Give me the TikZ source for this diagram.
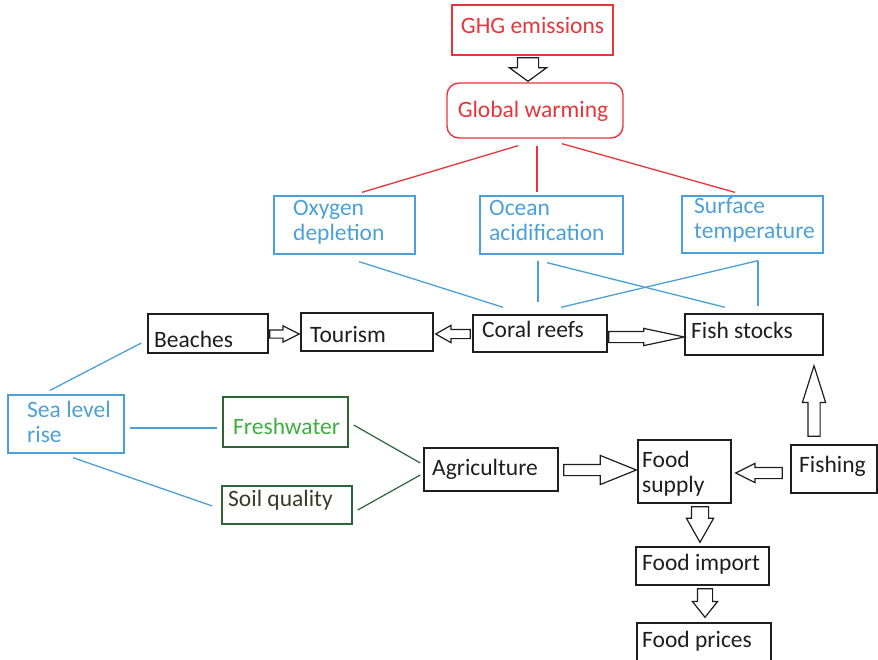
\documentclass[tikz,border=0pt]{standalone}
\usepackage{fontspec}
\setmainfont{Carlito}
\usetikzlibrary{calc,shapes.arrows}

\definecolor{warmred}{RGB}{232,52,58}
\definecolor{seablue}{RGB}{75,160,215}
\definecolor{leafgreen}{RGB}{60,175,60}
\definecolor{darkgreen}{RGB}{45,100,55}
\definecolor{soiltext}{RGB}{55,60,40}
\definecolor{ink}{RGB}{30,30,30}

\tikzset{
  every node/.style={font=\fontsize{23.5}{25}\selectfont},
  frame/.style={draw, rectangle, inner sep=0pt, line width=1.4pt},
  redframe/.style={frame, draw=warmred},
  blueframe/.style={frame, draw=seablue, line width=1.3pt},
  greenframe/.style={frame, draw=darkgreen},
  blackframe/.style={frame, draw=ink},
  txt/.style={anchor=base west, inner sep=0pt, align=left},
  redlink/.style={draw=warmred, line width=1.3pt},
  bluelink/.style={draw=seablue, line width=1.3pt},
  greenlink/.style={draw=darkgreen, line width=1.2pt},
  hollow/.style={single arrow, draw=ink, fill=white, line width=1.2pt,
    inner xsep=0pt, outer sep=0pt, sloped, allow upside down,
    single arrow head indent=0pt},
}

% box given by its corners (x1,y1) (x2,y2), y measured downwards
\newcommand\boxat[6]{%
  \node[#1, minimum width={#5-#3}, minimum height={#6-#4}] (#2)
    at ({(#3+#5)/2},{(#4+#6)/2}) {};}

% outlined block arrow: start, end, half shaft width, head extend, tip angle
\newcommand\hollowarrow[5]{%
  \path let \p1=#1, \p2=#2, \n1={veclen(\x2-\x1,\y2-\y1)} in #1 -- #2
    node[hollow, pos=0, anchor=tail, minimum height=\n1, inner ysep=#3pt,
         single arrow head extend=#4pt, single arrow tip angle=#5] {};}

\begin{document}
\begin{tikzpicture}[x=1pt, y=-1pt]
\useasboundingbox (0,0) rectangle (878,659);

% ---- boxes ----
\boxat{redframe}{ghg}{452}{5}{613}{55}
\boxat{redframe, rounded corners=12pt}{gw}{447}{83}{623}{138}
\boxat{blueframe}{oxy}{274}{196}{415}{254}
\boxat{blueframe}{ocean}{480}{196}{623}{254}
\boxat{blueframe}{surf}{682}{196}{823}{253}
\boxat{blackframe}{beach}{148}{314}{268}{353}
\boxat{blackframe}{tour}{301}{313}{433}{351}
\boxat{blackframe}{coral}{473}{315}{607}{352}
\boxat{blackframe}{fish}{685}{314}{823}{355}
\boxat{blueframe}{sea}{8}{395}{124}{453}
\boxat{greenframe}{fresh}{223}{397}{348}{447}
\boxat{greenframe}{soil}{222}{486}{352}{524}
\boxat{blackframe}{agri}{424}{448}{558}{491}
\boxat{blackframe}{fsup}{638}{440}{731}{503}
\boxat{blackframe}{fishing}{791}{445}{877}{493}
\boxat{blackframe}{fimp}{636}{547}{769}{585}
\boxat{blackframe}{fpr}{637}{623}{771}{664}

% ---- texts ----
\node[anchor=base, inner sep=0pt, text=warmred] (t-ghg) at (532.5,33) {GHG emissions};
\node[anchor=base, inner sep=0pt, text=warmred] (t-gw) at (533,117) {Global warming};
\node[txt, text=seablue] (t-oxy) at (293,240) {Oxygen\\depletion};
\node[txt, text=seablue] (t-ocean) at (489,240) {Ocean\\acidification};
\node[txt, text=seablue] (t-surf) at (694,238) {Surface\\temperature};
\node[txt, text=ink] (t-beach) at (154,347) {Beaches};
\node[txt, text=ink] (t-tour) at (310,342) {Tourism};
\node[txt, text=ink] (t-coral) at (482,337) {Coral reefs};
\node[txt, text=ink] (t-fish) at (691,338) {Fish stocks};
\node[txt, text=seablue] (t-sea) at (27,442) {Sea level\\rise};
\node[txt, text=leafgreen] (t-fresh) at (233,434) {Freshwater};
\node[txt, text=soiltext] (t-soil) at (228,506) {Soil quality};
\node[txt, text=ink] (t-agri) at (432,475) {Agriculture};
\node[txt, text=ink] (t-fsup) at (642,492) {Food\\supply};
\node[txt, text=ink] (t-fishing) at (799,472) {Fishing};
\node[txt, text=ink] (t-fimp) at (642,570) {Food import};
\node[txt, text=ink] (t-fpr) at (642,647) {Food prices};

% ---- red links from global warming ----
\draw[redlink] ($(gw.south)+(-17,7)$) -- ($(oxy.north)+(17.5,-3)$);
\draw[redlink] ($(gw.south)+(2,7)$) -- ($(ocean.north)+(-14.5,-3)$);
\draw[redlink] ($(gw.south)+(27,5)$) -- ($(surf.north)+(-17.5,-3)$);

% ---- blue links ----
\draw[bluelink] ($(oxy.south)+(14.5,7)$) -- ($(coral.north)+(-37,-7)$);
\draw[bluelink] ($(ocean.south)+(-13.5,6)$) -- ($(coral.north)+(-2,-12)$);
\draw[bluelink] ($(ocean.south)+(-4.5,8)$) -- ($(fish.north)+(-29,-6)$);
\draw[bluelink] ($(surf.south)+(5.5,7)$) -- ($(coral.north)+(21,-7)$);
\draw[bluelink] ($(surf.south)+(5.5,7)$) -- ($(fish.north)+(4,-7)$);
\draw[bluelink] ($(beach.west)+(-6,9.5)$) -- ($(sea.north)+(-16,-4)$);
\draw[bluelink] ($(sea.east)+(5,4)$) -- ($(fresh.west)+(-5,6)$);
\draw[bluelink] ($(sea.south)+(7,4)$) -- ($(soil.west)+(-9,1)$);

% ---- green links ----
\draw[greenlink] ($(fresh.east)+(5,3)$) -- ($(agri.west)+(-3,-6.5)$);
\draw[greenlink] ($(soil.east)+(5,5)$) -- ($(agri.west)+(-3,5.5)$);

% ---- block arrows ----
\hollowarrow{($(ghg.south)+(-4.5,2)$)}{($(gw.north)+(-7,-1)$)}{10}{8}{108}
\hollowarrow{($(beach.east)+(1,0.5)$)}{($(tour.west)+(-1,2)$)}{3.5}{4}{53}
\hollowarrow{($(coral.west)+(-2,0.5)$)}{($(tour.east)+(2,2)$)}{4}{4}{59}
\hollowarrow{($(coral.east)+(1,3.5)$)}{($(fish.west)+(0,2.5)$)}{5}{3}{24}
\hollowarrow{($(agri.east)+(5,0.5)$)}{($(fsup.west)+(-1,-1.5)$)}{5}{9}{44}
\hollowarrow{($(fishing.west)+(-8,4)$)}{($(fsup.east)+(4,1.5)$)}{5}{4}{53}
\hollowarrow{($(fishing.north)+(-20,-8)$)}{($(fish.south)+(60,10)$)}{5.5}{5.5}{35}
\hollowarrow{($(fsup.south)+(15.5,3)$)}{($(fimp.north)+(-2.5,-4)$)}{8}{5}{59}
\hollowarrow{($(fimp.south)+(2.5,3)$)}{($(fpr.north)+(1,-5)$)}{7}{5}{77}
\end{tikzpicture}
\end{document}
